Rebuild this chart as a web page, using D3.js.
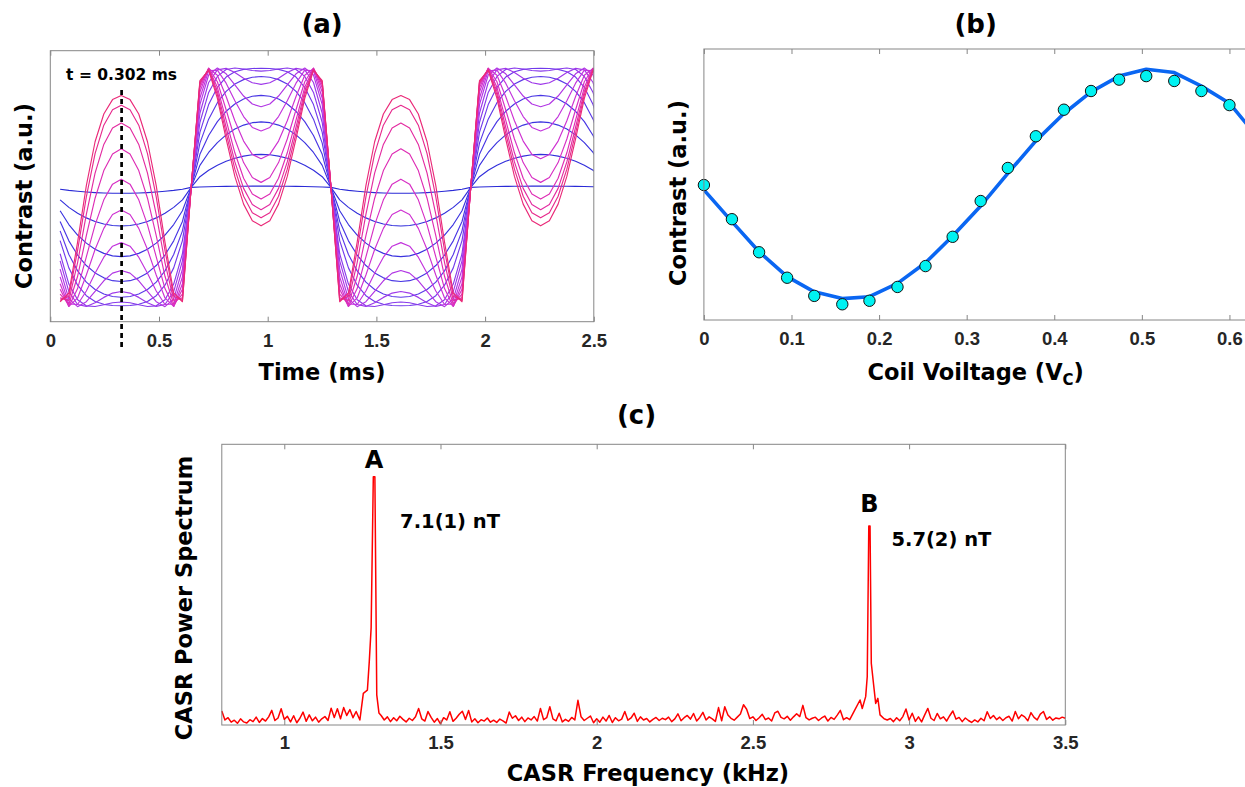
<!DOCTYPE html>
<html><head><meta charset="utf-8">
<script src="https://cdn.jsdelivr.net/npm/d3@7"></script>
<style>body{margin:0;background:#fff} svg{display:block;background:#fff}</style>
</head><body><svg id="chart" width="1245" height="787"></svg>
<script>
// ================= Panel (a): contrast vs time =================
const halfStarts = [0.005, 0.648, 1.291, 1.934];     // ms, zero crossings of the drive field
const halfLength = 0.643;                              // ms
const halfSigns = [-1, 1, -1, 1];
const driveShape = [0, 0.319, 0.511, 0.663, 0.785, 0.879, 0.946, 0.987, 1, 0.987, 0.946, 0.879, 0.785, 0.663, 0.511, 0.319, 0];
const phaseNeg = [0.05, 0.33, 0.62, 0.91, 1.17, 1.45, 1.85, 2.08, 2.37, 2.66, 2.95, 3.21, 3.47, 3.71, 3.90, 4.02];
const phasePos = [0.01, 0.28, 0.58, 0.88, 1.19, 1.50, 1.80, 2.10, 2.40, 2.65, 2.90, 3.10, 3.24, 3.33, 3.40, 3.47];
const markerTime = 0.328;
const markerLabel = "t = 0.302 ms";
const timeTicks = [0, 0.5, 1, 1.5, 2, 2.5];
const curveColors = ["#2a2ad6", "#4038e4", "#8a3cf0", "#c833e0", "#e02cb8", "#ea2a78"];

// ================= Panel (b): contrast vs coil voltage =================
const coilVoltage = [0, 0.032, 0.063, 0.095, 0.126, 0.158, 0.189, 0.221, 0.253, 0.284, 0.316, 0.347, 0.379, 0.411, 0.442, 0.474, 0.505, 0.537, 0.568, 0.600];
const contrastMeasured = [0.498, 0.372, 0.250, 0.156, 0.089, 0.058, 0.071, 0.122, 0.199, 0.307, 0.439, 0.561, 0.678, 0.776, 0.845, 0.887, 0.900, 0.882, 0.845, 0.793];
const fitVoltage = [0, 0.032, 0.063, 0.095, 0.126, 0.158, 0.189, 0.221, 0.253, 0.284, 0.316, 0.347, 0.379, 0.411, 0.442, 0.474, 0.505, 0.537, 0.568, 0.600, 0.632];
const contrastFit = [0.480, 0.363, 0.252, 0.160, 0.104, 0.079, 0.086, 0.135, 0.211, 0.310, 0.421, 0.541, 0.661, 0.762, 0.842, 0.900, 0.925, 0.913, 0.863, 0.800, 0.675];
const voltageTicks = [0, 0.1, 0.2, 0.3, 0.4, 0.5, 0.6];

// ================= Panel (c): CASR power spectrum =================
const freqStart = 0.80, freqStep = 0.01;   // kHz grid of the noise floor
const noiseFloor = [
  5.0,1.8,2.6,1.0,1.7,0.6,2.2,1.1,0.7,1.9,
  1.2,2.8,0.9,2.3,1.4,2.9,5.2,1.6,2.5,5.8,
  2.0,3.1,1.1,3.3,0.8,2.4,4.6,1.3,3.6,1.5,
  2.8,1.0,2.2,3.0,1.6,6.0,2.7,5.8,2.2,6.2,
  3.4,5.5,2.6,4.8,1.8,1.8,1.8,1.8,1.8,1.8,
  4.2,3.4,1.8,2.9,1.2,2.6,1.5,3.1,2.0,1.1,
  2.4,1.6,2.9,5.9,2.2,1.4,4.8,2.7,1.0,2.3,
  0.4,2.6,1.8,4.7,1.3,2.4,3.8,4.9,2.0,5.2,
  1.1,2.2,0.8,1.9,1.4,2.5,1.0,1.7,0.9,2.1,
  1.5,0.7,4.6,2.4,3.3,1.6,2.8,1.2,2.5,1.8,
  3.0,1.4,5.9,1.9,2.6,6.5,2.2,1.5,4.2,1.1,
  2.0,1.3,2.7,1.8,8.8,2.9,1.6,2.4,3.2,0.8,
  2.2,1.0,2.8,1.4,3.4,0.9,2.6,1.5,2.1,4.8,
  1.7,2.5,4.2,1.3,2.9,1.8,2.3,1.1,2.0,2.7,
  1.6,2.4,1.9,2.8,1.2,2.2,4.0,1.5,2.6,3.4,
  2.1,4.1,1.4,2.7,4.5,1.8,2.9,2.2,1.3,6.2,
  1.5,6.5,3.6,2.4,1.7,2.8,3.9,7.2,5.6,2.3,
  2.9,1.6,2.6,3.8,1.9,2.5,1.4,4.3,4.9,2.7,
  2.2,3.1,1.7,2.9,4.0,3.0,7.0,2.6,1.8,2.4,
  2.8,1.6,2.5,3.2,1.4,2.7,2.0,3.5,5.2,1.9,
  2.6,1.9,4.7,2.0,2.0,2.0,2.0,2.0,2.0,2.0,
  2.0,2.0,2.2,1.8,2.3,1.2,2.6,1.5,3.0,5.7,
  1.8,4.2,1.3,2.9,1.1,3.6,5.9,2.4,1.6,4.1,
  2.2,2.9,1.4,3.3,5.0,2.1,2.7,1.2,2.5,1.6,
  0.9,1.8,1.1,2.4,1.5,4.7,2.3,3.4,1.9,2.8,
  1.6,2.6,3.1,1.4,4.8,2.2,3.6,2.9,1.5,4.4,
  2.7,1.8,3.9,4.8,2.0,2.9,1.7,2.5,2.2,2.8,
  2.4];
const peakAFreq = [1.242, 1.253, 1.266, 1.272, 1.278, 1.285, 1.290, 1.296, 1.303];
const peakAPower = [1.8, 11.3, 12.4, 22.5, 34.6, 88.4, 88.4, 10.7, 4.3];
const peakBFreq = [2.823, 2.843, 2.850, 2.861, 2.866, 2.871, 2.875, 2.879, 2.886, 2.893, 2.900, 2.907];
const peakBPower = [4.7, 8.9, 5.9, 10.1, 17.2, 70.9, 70.9, 22.0, 14.8, 7.7, 9.5, 3.6];
const freqTicks = [1, 1.5, 2, 2.5, 3, 3.5];
const peakLabels = ["A", "B"];
const peakFields = ["7.1(1) nT", "5.7(2) nT"];

// ================= drawing =================
const svg = d3.select("#chart");
const FRAME = "#868686";
const LABEL_FONT = "'DejaVu Sans', sans-serif";
const TICK_FONT = "'Liberation Sans', Arial, sans-serif";

function frame(g, x0, y0, x1, y1) {
  g.append("rect").attr("x", x0).attr("y", y0).attr("width", x1 - x0).attr("height", y1 - y0)
    .attr("fill", "none").attr("stroke", FRAME).attr("stroke-width", 1);
}
function xAxes(g, x, ticks, top, bottom, labelOffset) {
  const b = g.append("g").attr("transform", `translate(0,${bottom})`)
    .call(d3.axisBottom(x).tickValues(ticks).tickSizeInner(-5).tickSizeOuter(0).tickFormat(d3.format("~g")));
  b.select(".domain").remove();
  b.selectAll("line").attr("stroke", FRAME);
  b.selectAll("text").attr("y", labelOffset).attr("dy", null)
    .attr("font-family", TICK_FONT).attr("font-weight", "bold").attr("font-size", 18.5).attr("fill", "#262626");
  const t = g.append("g").attr("transform", `translate(0,${top})`)
    .call(d3.axisTop(x).tickValues(ticks).tickSizeInner(-5).tickSizeOuter(0).tickFormat(""));
  t.select(".domain").remove();
  t.selectAll("line").attr("stroke", FRAME);
}
function label(txt, x, y, size, rotate) {
  const t = svg.append("text").attr("font-family", LABEL_FONT).attr("font-weight", "bold")
    .attr("font-size", size).attr("text-anchor", "middle").attr("fill", "#000");
  if (rotate) t.attr("transform", `translate(${x},${y}) rotate(-90)`);
  else t.attr("x", x).attr("y", y);
  t.text(txt);
  return t;
}

// ---------- (a) ----------
{
  const L = 50.3, R = 593.8, T = 50.7, B = 321.7;
  const x = d3.scaleLinear().domain([0, 2.5]).range([L, R]);
  const y = d3.scaleLinear().domain([-1.126, 1.145]).range([B, T]);
  const g = svg.append("g");
  svg.append("clipPath").attr("id", "clipA").append("rect").attr("x", L).attr("y", T).attr("width", R - L).attr("height", B - T);
  const color = d3.interpolateRgbBasis(curveColors);
  const n = driveShape.length - 1;
  const curves = phaseNeg.map((pn, k) => {
    const pts = [];
    halfStarts.forEach((t0, j) => {
      const ph = halfSigns[j] < 0 ? pn : phasePos[k];
      driveShape.forEach((h, i) => {
        if (i === 0) return;
        pts.push({ t: t0 + halfLength * i / n, v: halfSigns[j] * Math.sin(ph * h) });
      });
    });
    return pts;
  });
  const line = d3.line().x(d => x(d.t)).y(d => y(d.v));
  g.append("g").attr("clip-path", "url(#clipA)").selectAll("path").data(curves).join("path")
    .attr("d", line).attr("fill", "none").attr("stroke-width", 1.15).attr("stroke-linejoin", "round")
    .attr("stroke", (d, k) => color(k / (curves.length - 1)));
  frame(g, L, T, R, B);
  xAxes(g, x, timeTicks, T, B, 25);
  g.append("line").attr("x1", x(markerTime)).attr("x2", x(markerTime)).attr("y1", 90).attr("y2", 349)
    .attr("stroke", "#000").attr("stroke-width", 2.7).attr("stroke-dasharray", "5,4");
  g.append("text").attr("x", x(markerTime)).attr("y", 80).attr("text-anchor", "middle")
    .attr("font-family", LABEL_FONT).attr("font-weight", "bold").attr("font-size", 15.5).text(markerLabel);
  label("(a)", (L + R) / 2, 33, 26);
  label("Time (ms)", (L + R) / 2, 380, 22.5);
  label("Contrast (a.u.)", 31.5, 196, 22.5, true);
}

// ---------- (b) ----------
{
  const L = 703.9, R = 1247.4, T = 49, B = 320;
  const x = d3.scaleLinear().domain([0, 0.6205]).range([L, R]);
  const y = d3.scaleLinear().domain([0, 1]).range([B, T]);
  const g = svg.append("g");
  svg.append("clipPath").attr("id", "clipB").append("rect").attr("x", L).attr("y", T).attr("width", R - L).attr("height", B - T);
  const fit = fitVoltage.map((v, i) => [v, contrastFit[i]]);
  g.append("path").attr("clip-path", "url(#clipB)").datum(fit)
    .attr("d", d3.line().x(d => x(d[0])).y(d => y(d[1])))
    .attr("fill", "none").attr("stroke", "#0a66f2").attr("stroke-width", 3.6).attr("stroke-linejoin", "round");
  g.selectAll("circle").data(coilVoltage.map((v, i) => [v, contrastMeasured[i]])).join("circle")
    .attr("cx", d => x(d[0])).attr("cy", d => y(d[1])).attr("r", 5.7)
    .attr("fill", "#00f2f2").attr("stroke", "#111").attr("stroke-width", 1);
  frame(g, L, T, R, B);
  xAxes(g, x, voltageTicks, T, B, 25);
  label("(b)", (L + R) / 2, 33, 26);
  const xl = label("", (L + R) / 2, 380, 22.5);
  xl.append("tspan").text("Coil Voiltage (V");
  xl.append("tspan").attr("font-size", 15).attr("dy", 5).text("C");
  xl.append("tspan").attr("dy", -5).text(")");
  label("Contrast (a.u.)", 686, 193, 22.5, true);
}

// ---------- (c) ----------
{
  const L = 221.8, R = 1065.3, T = 444.3, B = 725;
  const x = d3.scaleLinear().domain([0.8, 3.5]).range([L, R]);
  const y = d3.scaleLinear().domain([0, 100]).range([B, T]);
  const g = svg.append("g");
  const windows = [[1.24, 1.305], [2.82, 2.91]];
  const pts = [];
  noiseFloor.forEach((p, i) => {
    const f = +(freqStart + i * freqStep).toFixed(3);
    if (!windows.some(w => f >= w[0] && f <= w[1])) pts.push([f, p]);
  });
  peakAFreq.forEach((f, i) => pts.push([f, peakAPower[i]]));
  peakBFreq.forEach((f, i) => pts.push([f, peakBPower[i]]));
  pts.sort((a, b) => a[0] - b[0]);
  g.append("path").datum(pts).attr("d", d3.line().x(d => x(d[0])).y(d => y(d[1])))
    .attr("fill", "none").attr("stroke", "#ff0000").attr("stroke-width", 1.5).attr("stroke-linejoin", "round");
  frame(g, L, T, R, B);
  xAxes(g, x, freqTicks, T, B, 24);
  const peakX = [x(1.2875), x(2.873)];
  const letterY = [468, 512];
  const fieldY = [528.3, 545.7];
  const fieldDx = [26, 22];
  peakLabels.forEach((s, i) => {
    g.append("text").attr("x", peakX[i]).attr("y", letterY[i]).attr("text-anchor", "middle")
      .attr("font-family", LABEL_FONT).attr("font-weight", "bold").attr("font-size", 24).text(s);
    g.append("text").attr("x", peakX[i] + fieldDx[i]).attr("y", fieldY[i])
      .attr("font-family", LABEL_FONT).attr("font-weight", "bold").attr("font-size", 19.5).text(peakFields[i]);
  });
  label("(c)", 636.5, 424, 26);
  label("CASR Frequency (kHz)", 648, 781, 22.5);
  label("CASR Power Spectrum", 192, 598, 22.5, true);
}
</script></body></html>
